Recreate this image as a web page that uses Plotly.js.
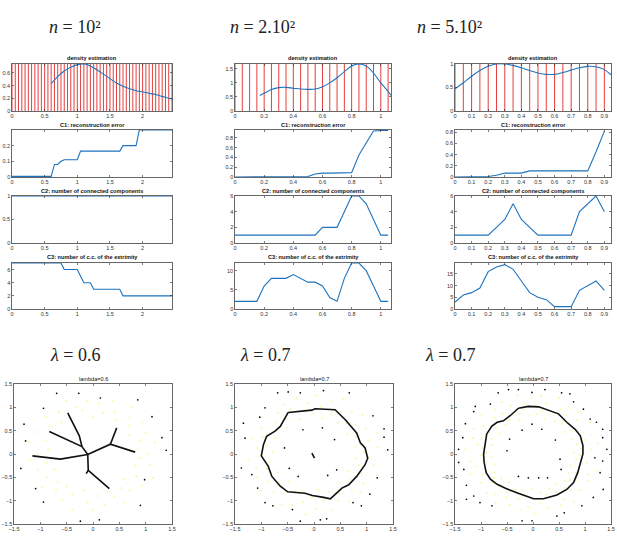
<!DOCTYPE html>
<html><head><meta charset="utf-8">
<script src="https://cdn.plot.ly/plotly-3.0.1.min.js"></script>
<style>html,body{margin:0;padding:0;background:#fff}#chart{width:617px;height:543px}</style>
</head><body><div id="chart"></div>
<script>
// ---- lambda grids ----
const lam1 = [0,0.05,0.1,0.15,0.2,0.25,0.3,0.35,0.4,0.45,0.5,0.55,0.6,0.65,0.7,0.75,0.8,0.85,0.9,0.95,1,1.05,1.1,1.15,1.2,1.25,1.3,1.35,1.4,1.45,1.5,1.55,1.6,1.65,1.7,1.75,1.8,1.85,1.9,1.95,2,2.05,2.1,2.15,2.2,2.25,2.3,2.35,2.4,2.45];
const lam2 = [0,0.05,0.1,0.15,0.2,0.25,0.3,0.35,0.4,0.45,0.5,0.55,0.6,0.65,0.7,0.75,0.8,0.85,0.9,0.95,1,1.05];
const lam3 = [0,0.05,0.1,0.15,0.2,0.25,0.3,0.35,0.4,0.45,0.5,0.55,0.6,0.65,0.7,0.75,0.8,0.85,0.9];

// ---- n = 10^2 ----
const dens1X = [0.6,0.7,0.8,0.9,1.0,1.1,1.2,1.3,1.4,1.5,1.6,1.7,1.8,1.9,2.0,2.1,2.2,2.3,2.4,2.45];
const dens1Y = [0.43,0.54,0.63,0.69,0.73,0.74,0.71,0.65,0.58,0.51,0.44,0.39,0.35,0.32,0.30,0.28,0.26,0.23,0.20,0.19];
const err1 = [0.004,0.004,0.004,0.004,0.004,0.004,0.004,0.004,0.004,0.004,0.004,0.004,0.004,0.08,0.08,0.1,0.11,0.11,0.11,0.11,0.11,0.165,0.165,0.165,0.165,0.165,0.165,0.165,0.165,0.165,0.165,0.165,0.165,0.165,0.2,0.2,0.2,0.2,0.2,0.3,0.3,0.3,0.3,0.3,0.3,0.3,0.3,0.3,0.3,0.3];
const cc1 = [1,1,1,1,1,1,1,1,1,1,1,1,1,1,1,1,1,1,1,1,1,1,1,1,1,1,1,1,1,1,1,1,1,1,1,1,1,1,1,1,1,1,1,1,1,1,1,1,1,1];
const ext1 = [7,7,7,7,7,7,7,7,7,7,7,7,7,7,7,7,6,6,6,6,6,5,4,4,4,3,3,3,3,3,3,3,3,3,2,2,2,2,2,2,2,2,2,2,2,2,2,2,2,2];

// ---- n = 2.10^2 ----
const dens2X = [0.17,0.2,0.25,0.3,0.35,0.4,0.45,0.5,0.55,0.6,0.65,0.7,0.75,0.8,0.85,0.9,0.95,1.0,1.05,1.07];
const dens2Y = [0.55,0.63,0.76,0.83,0.84,0.81,0.78,0.77,0.78,0.86,1.0,1.18,1.4,1.6,1.67,1.6,1.35,1.0,0.7,0.55];
const err2 = [0,0,0,0,0,0,0,0,0,0,0.01,0.06,0.08,0.08,0.085,0.09,0.09,0.45,0.7,0.94,0.95,0.95];
const cc2 = [1,1,1,1,1,1,1,1,1,1,1,1,2,2,2,4,6,6,5,3,1,1];
const ext2 = [2,2,2,2,6,8,8,8,9,8,7,7,6,3,2,8,12,12,10,6,2,2];

// ---- n = 5.10^2 ----
const dens3X = [0,0.05,0.1,0.15,0.2,0.25,0.3,0.35,0.4,0.45,0.5,0.55,0.6,0.65,0.7,0.75,0.8,0.85,0.9,0.94];
const dens3Y = [0.47,0.6,0.74,0.86,0.95,1.0,1.0,0.97,0.92,0.86,0.81,0.78,0.78,0.82,0.87,0.92,0.95,0.94,0.88,0.77];
const err3 = [0,0,0,0,0.01,0.03,0.07,0.07,0.07,0.11,0.11,0.11,0.11,0.11,0.11,0.11,0.11,0.45,0.82];
const cc3 = [1,1,1,1,1,2,3,5,3,2,1,1,1,1,1,4,5,6,4];
const ext3 = [3,6,7,9,16,18,19,17,12,7,5,4,1,1,1,8,10,12,8];

// ---- point clouds and reconstructed skeletons ----
const cloud1X = [1.05,0.85,1.17,0.90,1.00,0.69,0.93,0.67,0.70,0.73,0.43,0.41,0.37,0.19,0.11,0.0,-0.12,-0.20,-0.32,-0.51,-0.43,-0.65,-0.60,-0.89,-0.81,-0.69,-1.05,-0.90,-1.22,-0.85,-1.05,-1.19,-0.88,-1.05,-0.73,-0.87,-0.97,-0.67,-0.70,-0.50,-0.58,-0.39,-0.39,-0.17,-0.11,0.0,0.09,0.23,0.26,0.41,0.60,0.53,0.70,0.59,0.93,0.82,1.14,0.81,1.08,0.90];
const cloud1Y = [0.00,0.09,0.25,0.29,0.45,0.40,0.68,0.60,0.78,1.01,0.74,0.91,1.14,0.88,1.09,0.8,1.14,0.93,1.00,1.14,0.74,0.89,0.67,0.80,0.59,0.40,0.47,0.29,0.26,0.09,0.0,-0.13,-0.19,-0.34,-0.33,-0.50,-0.71,-0.60,-0.78,-0.69,-1.00,-0.87,-1.19,-0.78,-1.04,-1.2,-0.90,-1.08,-0.81,-0.91,-1.04,-0.73,-0.78,-0.54,-0.68,-0.48,-0.51,-0.26,-0.23,-0.09];
const noise1X = [-0.69,-0.27,0.14,0.85,-0.94,1.12,-1.31,-1.28,1.31,1.39,-1.37,0.98,-1.09,-0.94,0.90,-0.24,0.12];
const noise1Y = [1.30,1.30,1.20,1.16,0.98,0.80,0.64,0.28,0.35,0.08,-0.31,-0.55,-0.74,-1.03,-1.10,-1.44,-1.41];
const tree1X = [-1.15,-0.62,-0.10,null,-0.83,-0.21,-0.10,null,-0.48,-0.26,-0.21,null,0.80,0.33,-0.10,null,0.45,0.33,null,-0.10,-0.09,0.31,null,-0.09,-0.13];
const tree1Y = [-0.04,-0.11,-0.01,null,0.48,0.16,-0.01,null,0.88,0.39,0.16,null,0.04,0.21,-0.01,null,0.56,0.21,null,-0.01,-0.35,-0.74,null,-0.35,-0.42];

const cloud2X = [0.95,1.21,0.79,1.04,1.20,0.80,0.98,0.63,0.79,0.92,0.61,0.72,0.46,0.52,0.55,0.32,0.33,0.16,0.12,0.05,-0.03,-0.12,-0.18,-0.33,-0.27,-0.44,-0.58,-0.50,-0.69,-0.51,-0.73,-1.00,-0.73,-1.00,-0.74,-0.97,-1.17,-0.90,-1.09,-0.78,-1.00,-1.25,-0.84,-1.10,-0.89,-1.09,-0.70,-0.88,-1.01,-0.66,-0.76,-0.47,-0.57,-0.61,-0.37,-0.41,-0.23,-0.21,-0.16,-0.04,0.04,0.09,0.19,0.33,0.29,0.46,0.47,0.67,0.49,0.72,0.88,0.70,0.93,0.66,0.91,1.20,0.85,1.13,0.81,1.04];
const cloud2Y = [0.03,0.14,0.15,0.29,0.44,0.36,0.54,0.42,0.62,0.84,0.66,0.90,0.68,0.91,1.18,0.86,1.13,0.76,1.01,1.26,0.86,1.09,0.94,1.19,0.75,0.96,1.05,0.75,0.88,0.56,0.68,0.80,0.49,0.57,0.35,0.36,0.34,0.18,0.13,0.03,-0.03,-0.14,-0.16,-0.30,-0.32,-0.50,-0.39,-0.59,-0.79,-0.61,-0.82,-0.59,-0.85,-1.08,-0.80,-1.09,-0.79,-1.03,-1.29,-0.92,-1.18,-0.78,-1.00,-1.20,-0.81,-1.00,-0.84,-1.02,-0.63,-0.78,-0.82,-0.56,-0.63,-0.37,-0.42,-0.45,-0.24,-0.23,-0.10,-0.05];
const noise2X = [-0.69,-0.49,-0.26,0.18,0.67,-0.93,-1.03,-1.34,-1.31,-0.21,0.16,0.39,-0.56,1.12,1.33,1.33,1.40,-1.38,-1.18,-1.07,-0.93,-0.78,-0.47,-0.30,0.26,0.43,1.20,1.06,0.74,0.90,-0.41,0.12,0.24,-0.26];
const noise2Y = [1.31,1.33,1.31,1.36,1.31,0.99,0.79,0.66,0.34,0.52,0.56,0.31,0.13,0.82,0.54,0.36,0.09,-0.30,-0.44,-0.73,-1.04,-1.11,-0.31,-0.48,-0.46,-0.34,-0.51,-0.86,-1.04,-1.11,-1.19,-1.41,-1.39,-1.44];
const loop2X = [-0.49,-0.04,0.02,0.40,0.59,0.81,0.88,0.97,1.02,0.97,0.81,0.66,0.53,0.31,0.18,-0.03,-0.17,-0.50,-0.64,-0.80,-0.87,-1.00,-0.96,-0.90,-0.74,-0.64,-0.49,null,-0.04,0.01];
const loop2Y = [0.89,0.94,0.97,0.95,0.74,0.45,0.24,0.13,-0.09,-0.23,-0.48,-0.66,-0.73,-0.96,-0.93,-0.89,-0.84,-0.81,-0.69,-0.48,-0.26,-0.04,0.20,0.38,0.49,0.59,0.89,null,0.02,-0.09];

const cloud3X = [0.78,1.12,0.93,1.24,0.84,1.00,1.13,0.76,0.97,0.86,1.11,0.74,0.62,0.85,0.68,0.87,0.56,0.63,0.68,0.43,0.52,0.42,0.50,0.30,0.22,0.26,0.17,0.16,0.07,0.03,
  -0.03,-0.06,-0.14,-0.18,-0.30,-0.26,-0.26,-0.43,-0.40,-0.60,-0.45,-0.59,-0.73,-0.53,-0.74,-0.71,-0.99,-0.71,-0.64,-0.95,-0.83,-1.14,-0.79,-0.98,-1.15,-0.80,-1.06,-0.97,-1.30,-0.90,
  -1.00,-0.80,-1.21,-0.90,-1.11,-0.73,-1.21,-0.89,-0.96,-0.74,-1.01,-0.74,-0.79,-0.61,-0.88,-0.63,-0.74,-0.46,-0.72,-0.50,-0.51,-0.36,-0.45,-0.30,-0.28,-0.19,-0.22,-0.12,-0.09,-0.02,
  0.03,0.08,0.14,0.15,0.28,0.26,0.33,0.31,0.53,0.44,0.60,0.43,0.78,0.62,0.73,0.61,0.90,0.71,0.82,0.68,1.07,0.83,1.05,0.72,1.23,0.93,1.04,0.83,1.18,0.90];
const cloud3Y = [0.02,0.09,0.12,0.23,0.20,0.30,0.40,0.31,0.46,0.47,0.68,0.51,0.47,0.73,0.65,0.91,0.65,0.83,0.99,0.70,0.95,0.88,1.20,0.85,0.75,1.09,0.92,1.25,0.86,1.04,
  1.20,0.82,1.07,0.96,1.26,0.86,0.74,1.03,0.85,1.11,0.73,0.86,0.95,0.62,0.78,0.67,0.84,0.55,0.44,0.59,0.45,0.54,0.33,0.35,0.34,0.19,0.20,0.13,0.10,0.02,
  -0.03,-0.06,-0.16,-0.17,-0.27,-0.22,-0.43,-0.37,-0.46,-0.40,-0.62,-0.51,-0.61,-0.52,-0.84,-0.67,-0.87,-0.60,-1.05,-0.82,-0.93,-0.76,-1.09,-0.85,-0.96,-0.78,-1.20,-0.91,-1.14,-0.76,
  -1.28,-0.96,-1.05,-0.83,-1.15,-0.86,-0.94,-0.74,-1.10,-0.81,-0.97,-0.63,-1.02,-0.73,-0.77,-0.58,-0.77,-0.55,-0.57,-0.42,-0.58,-0.40,-0.44,-0.25,-0.36,-0.22,-0.19,-0.11,-0.09,-0.02];
const noise3X = [-0.67,-0.47,-0.28,-0.02,0.23,0.55,0.71,-1.14,-1.11,-1.30,-1.35,-1.43,-1.43,-1.33,-1.28,-1.14,-1.02,-0.79,-0.21,-0.02,0.46,0.60,0.94,1.16,1.35,1.29,1.34,1.42,1.34,1.34,1.22,1.10,0.97,0.78,-0.21,0.17,0.43,-0.50,-0.45,-0.28,-0.09,0.11,0.28,0.54,0.52,-0.02,-0.82,-1.28,1.19];
const noise3Y = [1.31,1.38,1.38,1.32,1.38,1.31,1.29,0.91,1.02,0.65,0.35,0.10,-0.18,-0.33,-0.67,-0.90,-1.04,-1.11,-1.43,-1.43,-1.33,-1.26,-1.11,-0.93,-0.76,-0.40,-0.15,0.10,0.35,0.53,0.68,0.75,0.96,1.12,0.51,0.53,0.30,0.07,0.32,-0.48,-0.51,-0.51,-0.51,-0.33,-0.11,0.64,1.07,-0.97,-0.08];
const loop3X = [-0.28,-0.09,0.11,0.33,0.49,0.65,0.81,0.91,0.96,0.96,0.91,0.86,0.78,0.65,0.46,0.20,0.01,-0.15,-0.31,-0.54,-0.69,-0.82,-0.90,-0.94,-0.95,-0.92,-0.89,-0.79,-0.69,-0.57,-0.44,-0.28];
const loop3Y = [0.98,1.02,1.01,0.93,0.86,0.68,0.53,0.39,0.18,0.00,-0.22,-0.40,-0.61,-0.76,-0.88,-0.96,-0.96,-0.90,-0.83,-0.73,-0.65,-0.54,-0.40,-0.18,0.00,0.21,0.43,0.60,0.68,0.71,0.82,0.98];

// ---- text ----
const headersTop = ['<i>n</i> = 10²', '<i>n</i> = 2.10²', '<i>n</i> = 5.10²'];
const headersBottom = ['<i>λ</i> = 0.6', '<i>λ</i> = 0.7', '<i>λ</i> = 0.7'];
const rowTitles = ['density estimation', 'C1: reconstruction error', 'C2: number of connected components', 'C3: number of c.c. of the extrimity'];
const cloudTitles = ['lambda=0.6', 'lambda=0.7', 'lambda=0.7'];

// ---- layout geometry (pixels) ----
const W = 617, H = 543;
const colsTop = [[12,172],[235,391],[455,611]];
const rowsTop = [[64,111],[130,177],[196,243],[263,309]];
const colsBot = [[14,172],[235,393],[455,611]];
const rowBot = [384,524];
const fx = p => p / W;
const fy = p => 1 - p / H;

const blue = 'rgb(30,115,190)';
const axisCol = '#262626';
const tickFont = {family: 'Liberation Sans, Arial, sans-serif', size: 5.5, color: '#333'};

const xRanges = [[0,2.45],[0,1.07],[0,0.94]];
const xTicks = [[0,0.5,1,1.5,2],[0,0.2,0.4,0.6,0.8,1],[0,0.1,0.2,0.3,0.4,0.5,0.6,0.7,0.8,0.9]];
const yRanges = [
  [[0,0.74],[0,1.67],[0,1.0]],
  [[0,0.3],[0,0.96],[0,0.84]],
  [[0,1],[0,6],[0,6]],
  [[0,7],[0,12],[0,19.7]]
];
const yTicks = [
  [[0,0.2,0.4,0.6],[0,0.5,1,1.5],[0,0.5,1]],
  [[0,0.1,0.2],[0,0.2,0.4,0.6,0.8],[0,0.2,0.4,0.6,0.8]],
  [[0,0.5,1],[0,2,4,6],[0,2,4,6]],
  [[0,2,4,6],[0,5,10],[0,5,10,15]]
];
const lams = [lam1, lam2, lam3];
const series = [
  [[dens1X,dens1Y],[lam1,err1],[lam1,cc1],[lam1,ext1]],
  [[dens2X,dens2Y],[lam2,err2],[lam2,cc2],[lam2,ext2]],
  [[dens3X,dens3Y],[lam3,err3],[lam3,cc3],[lam3,ext3]]
];

function axisBase(domain, range, ticks, anchor) {
  return {
    domain: domain, range: range, tickvals: ticks, anchor: anchor,
    showline: true, mirror: 'allticks', linecolor: axisCol, linewidth: 0.7,
    ticks: 'inside', ticklen: 2, tickwidth: 0.6, tickcolor: axisCol,
    showgrid: false, zeroline: false, tickfont: tickFont, fixedrange: true
  };
}

const traces = [];
const layout = {
  width: W, height: H, margin: {l: 0, r: 0, t: 0, b: 0},
  paper_bgcolor: '#fff', plot_bgcolor: '#fff', showlegend: false,
  annotations: [], shapes: []
};

for (let c = 0; c < 3; c++) {
  for (let r = 0; r < 4; r++) {
    const id = r * 3 + c + 1;
    const xs = id === 1 ? '' : String(id);
    layout['xaxis' + xs] = axisBase([fx(colsTop[c][0]), fx(colsTop[c][1])], xRanges[c], xTicks[c], 'y' + xs);
    layout['yaxis' + xs] = axisBase([fy(rowsTop[r][1]), fy(rowsTop[r][0])], yRanges[r][c], yTicks[r][c], 'x' + xs);
    const s = series[c][r];
    traces.push({
      type: 'scatter', mode: 'lines', x: s[0], y: s[1],
      xaxis: 'x' + xs, yaxis: 'y' + xs,
      line: {color: blue, width: 1.1, shape: r === 0 ? 'spline' : 'linear'},
      hoverinfo: 'skip'
    });
    if (r === 0) {
      // vertical markers at each lambda of the grid
      lams[c].forEach(v => layout.shapes.push({
        type: 'line', xref: 'x' + xs, yref: 'y' + xs + ' domain',
        x0: v, x1: v, y0: 0, y1: 1, layer: 'below',
        line: {color: 'rgb(225,40,40)', width: 0.9}
      }));
    }
    layout.annotations.push({
      xref: 'paper', yref: 'paper', x: fx((colsTop[c][0] + colsTop[c][1]) / 2), y: fy(rowsTop[r][0] - 0.5),
      xanchor: 'center', yanchor: 'bottom', showarrow: false, text: '<b>' + rowTitles[r] + '</b>',
      font: {family: 'Liberation Sans, Arial, sans-serif', size: 5.6, color: '#111'}
    });
  }
}

const clouds = [
  [cloud1X, cloud1Y, noise1X, noise1Y, tree1X, tree1Y],
  [cloud2X, cloud2Y, noise2X, noise2Y, loop2X, loop2Y],
  [cloud3X, cloud3Y, noise3X, noise3Y, loop3X, loop3Y]
];
const cloudTicks = [-1.5,-1,-0.5,0,0.5,1,1.5];
for (let c = 0; c < 3; c++) {
  const id = 13 + c, xs = String(id);
  layout['xaxis' + xs] = axisBase([fx(colsBot[c][0]), fx(colsBot[c][1])], [-1.5,1.5], cloudTicks, 'y' + xs);
  layout['yaxis' + xs] = axisBase([fy(rowBot[1]), fy(rowBot[0])], [-1.5,1.5], cloudTicks, 'x' + xs);
  const d = clouds[c];
  traces.push({type: 'scatter', mode: 'markers', x: d[0], y: d[1], xaxis: 'x' + xs, yaxis: 'y' + xs,
    marker: {color: 'rgb(250,248,175)', size: 2.2}, hoverinfo: 'skip'});
  traces.push({type: 'scatter', mode: 'markers', x: d[2], y: d[3], xaxis: 'x' + xs, yaxis: 'y' + xs,
    marker: {color: '#000', size: 1.7}, hoverinfo: 'skip'});
  traces.push({type: 'scatter', mode: 'lines', x: d[4], y: d[5], xaxis: 'x' + xs, yaxis: 'y' + xs,
    line: {color: '#111', width: 1.6}, connectgaps: false, hoverinfo: 'skip'});
  layout.annotations.push({
    xref: 'paper', yref: 'paper', x: fx((colsBot[c][0] + colsBot[c][1]) / 2), y: fy(rowBot[0] - 0.5),
    xanchor: 'center', yanchor: 'bottom', showarrow: false, text: cloudTitles[c],
    font: {family: 'Liberation Sans, Arial, sans-serif', size: 5.6, color: '#111'}
  });
}

// column headers
const headTopX = [75, 262, 449];
const headBotX = [75, 265, 450];
for (let c = 0; c < 3; c++) {
  layout.annotations.push({xref: 'paper', yref: 'paper', x: fx(headTopX[c]), y: fy(27),
    xanchor: 'center', yanchor: 'middle', showarrow: false, text: headersTop[c],
    font: {family: 'Liberation Serif, DejaVu Serif, serif', size: 18, color: '#222'}});
  layout.annotations.push({xref: 'paper', yref: 'paper', x: fx(headBotX[c]), y: fy(355),
    xanchor: 'center', yanchor: 'middle', showarrow: false, text: headersBottom[c],
    font: {family: 'Liberation Serif, DejaVu Serif, serif', size: 18, color: '#222'}});
}

Plotly.newPlot('chart', traces, layout, {staticPlot: true, displayModeBar: false});
</script></body></html>
